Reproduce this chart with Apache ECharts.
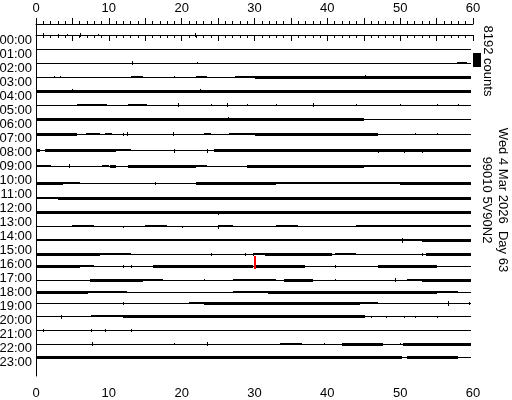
<!DOCTYPE html>
<html><head><meta charset="utf-8">
<script src="https://cdn.jsdelivr.net/npm/echarts@6/dist/echarts.min.js"></script>
<style>html,body{margin:0;padding:0;background:#fff}#c{width:512px;height:400px}</style>
</head><body><div id="c"></div>
<script>
// ---- data ----
const hourLabels = ['00:00','01:00','02:00','03:00','04:00','05:00','06:00','07:00','08:00','09:00','10:00','11:00',
  '12:00','13:00','14:00','15:00','16:00','17:00','18:00','19:00','20:00','21:00','22:00','23:00'];
const countsPerLine = 8192;
const traceEndMinute = 59.7;
// mean (DC) offset of each hourly trace, counts
const traceOffsets = [0,0,0,0,0,0,0,760,2340,2930,4970,5850,5850,5850,5560,5560,4390,4100,2930,1460,1170,880,590,290];
// noisy stretches: [hour, startMin, endMin, halfAmplitudeCounts]
const noiseBands = [
  [2,57.8,59.2,300],
  [3,13.1,14.7,300],[3,22,23.5,300],[3,27.3,30,300],[3,30,59.7,600],
  [4,0,59.7,600],
  [5,5.6,9.7,300],[5,12.7,15.2,300],
  [6,0,45,600],
  [7,0,5.6,600],[7,6.8,8.8,300],[7,9.5,10.5,300],[7,23,24,300],[7,26.5,30,300],[7,30,47,600],
  [8,0,0.6,600],[8,1.2,11,600],[8,11,13,300],[8,24.5,59.7,600],
  [9,0,2,300],[9,9,10,300],[9,10.2,11,700],[9,12.7,22,600],[9,22,23.5,300],[9,29,45,600],[9,45,59.7,300],
  [10,0,3.7,600],[10,3.7,6,300],[10,22,33,600],[10,33,50,300],[10,50,59.7,600],
  [11,0,3,300],[11,3,59.7,600],
  [12,0,59.7,600],
  [13,5,8,300],[13,15,18,300],[13,25,27,300],[13,33,36,300],[13,44,59.7,300],
  [14,0,53,300],[14,53,59.7,600],
  [15,0,8.8,600],[15,8.8,13,300],[15,29.8,31.5,300],[15,31.5,40.6,600],[15,41,44,300],[15,53.6,59.7,600],
  [16,0,6,600],[16,6,8,300],[16,16,29.8,600],[16,30,37,600],[16,47,55,600],
  [17,7.4,14.7,600],[17,14.7,17.5,300],[17,27,29.5,300],[17,29.5,33,300],[17,34,38,600],[17,51,53,300],[17,53,59.7,600],
  [18,0,7.2,600],[18,7.2,12.5,300],[18,27,31.9,300],[18,31.9,55,600],[18,55,58,300],
  [19,21,23,300],[19,23,44.5,600],[19,44.5,47,300],
  [20,7.5,12,300],[20,12,45.2,600],
  [22,33.5,36.5,300],[22,42,47.7,600],[22,50.4,59.7,600],
  [23,0,50.2,600],[23,51,58,500]
];
// isolated spikes: [hour, minute, amplitudeCounts]
const spikes = [
  [0,1,600],[0,3,500],[0,4.2,500],[0,6,600],[0,8.5,400],[0,21.8,600],
  [2,13.2,700],[2,22.1,500],
  [3,2.5,400],[3,3.3,400],[3,19,400],[3,45.2,900],
  [4,5,900],[4,22.5,900],
  [5,19.5,600],[5,24,500],[5,26.2,800],[5,29,500],[5,33,400],[5,38,700],[5,44,400],[5,50,400],[5,55,400],[5,58,400],
  [6,26.3,1000],
  [7,12,500],[7,12.5,900],[7,18.8,900],[7,52,400],[7,55,400],
  [8,19,700],[8,23.5,600],[8,40,500],[8,47,800],[8,50.5,600],[8,53,700],
  [9,4.5,600],[9,16,500],
  [10,16.3,800],
  [12,25,600],[12,34,500],
  [13,25,700],[13,12,500],[13,20,500],
  [14,50.2,900],
  [15,24,700],[15,28.7,600],[15,29.8,600],[15,53,500],
  [16,12,500],[16,13,500],[16,41,500],
  [17,0,600],[17,23,500],[17,41,500],[17,49.3,1000],
  [19,12,800],[19,34,700],[19,56.6,900],[19,59.5,600],
  [20,3.5,1000],[20,46,500],[20,48,500],[20,50.5,500],[20,52,500],[20,55,500],
  [21,1,500],[21,7.5,500],[21,9.5,500],[21,13,500],
  [22,7.7,600],[22,19,500],[22,23.5,600],[22,39.5,500],[22,50,500]
];
// event pick: [hour, minute, upCounts, downCounts]
const picks = [[16,30,6150,1640]];
const titleDate = 'Wed 4 Mar 2026  Day 63';
const stationName = '99010 5V90N2';
const scaleLabel = '8192 counts';

// ---- layout ----
const PX_PER_LINE = 14;
const GRID_TOP = 24, GRID_H = 352, GRID_L = 36, GRID_W = 437;
const yMin = -(11 / PX_PER_LINE) * countsPerLine;
const yMax = yMin + GRID_H / PX_PER_LINE * countsPerLine;
const SCALE_BAR_TOP = yMin + (53 - GRID_TOP) / PX_PER_LINE * countsPerLine;
const FONT = '"Liberation Sans", Arial, sans-serif';

function base(h){ return h * countsPerLine + traceOffsets[h]; }

const chart = echarts.init(document.getElementById('c'), null, {renderer:'canvas'});
const axisCommon = {
  type:'value', min:0, max:60, interval:5, gridIndex:0,
  axisLine:{show:true, lineStyle:{color:'#000', width:1}},
  axisTick:{show:true, length:6, inside:false, lineStyle:{color:'#000', width:1}},
  minorTick:{show:true, splitNumber:5, length:3, lineStyle:{color:'#000', width:1}},
  splitLine:{show:false}, minorSplitLine:{show:false},
  axisLabel:{color:'#000', fontSize:13, fontFamily:FONT, formatter:v => (v % 10 === 0 ? String(v) : '')}
};
chart.setOption({
  animation:false,
  backgroundColor:'#fff',
  grid:[
    {left:GRID_L, top:GRID_TOP, width:GRID_W, height:GRID_H, containLabel:false, outerBoundsMode:'none'},
    {left:GRID_L, top:33, width:GRID_W, height:336, containLabel:false, outerBoundsMode:'none'}
  ],
  xAxis:[
    Object.assign({}, axisCommon, {position:'bottom', axisLabel:Object.assign({}, axisCommon.axisLabel, {margin:11})}),
    Object.assign({}, axisCommon, {position:'top', axisLabel:Object.assign({}, axisCommon.axisLabel, {margin:9})}),
    {type:'value', gridIndex:1, min:0, max:60, show:false}
  ],
  yAxis:[
    {type:'value', gridIndex:0, inverse:true, min:yMin, max:yMax, position:'right',
     axisLine:{show:true, lineStyle:{color:'#000', width:1}}, axisTick:{show:false}, axisLabel:{show:false}, splitLine:{show:false}},
    {type:'category', gridIndex:1, inverse:true, data:hourLabels, boundaryGap:true,
     axisLine:{show:false}, axisTick:{show:false}, splitLine:{show:false},
     axisLabel:{color:'#000', fontSize:13, fontFamily:FONT, margin:4, interval:0}}
  ],
  series:[
    { // baselines
      type:'custom', xAxisIndex:0, yAxisIndex:0, clip:false,
      data: hourLabels.map((_, h) => [h]),
      renderItem:(p, api) => {
        const h = api.value(0);
        const a = api.coord([0, base(h)]), b = api.coord([traceEndMinute, base(h)]);
        const y = Math.floor(a[1]);
        return {type:'rect', shape:{x:Math.round(a[0]), y:y, width:Math.round(b[0]) - Math.round(a[0]), height:1}, style:{fill:'#000'}};
      }
    },
    { // noise bands
      type:'custom', xAxisIndex:0, yAxisIndex:0, clip:false,
      data: noiseBands,
      renderItem:(p, api) => {
        const h = api.value(0), s = api.value(1), e = api.value(2), amp = api.value(3);
        const a = api.coord([s, base(h)]), b = api.coord([e, base(h)]);
        const apx = api.size([0, amp])[1];
        const hgt = Math.max(1, Math.round(2 * apx) + 1);
        const y = Math.floor(a[1]) - Math.floor(hgt / 2);
        const x0 = Math.round(a[0]), x1 = Math.round(b[0]);
        return {type:'rect', shape:{x:x0, y:y, width:Math.max(1, x1 - x0), height:hgt}, style:{fill:'#000'}};
      }
    },
    { // spikes
      type:'custom', xAxisIndex:0, yAxisIndex:0, clip:false,
      data: spikes,
      renderItem:(p, api) => {
        const h = api.value(0), m = api.value(1), amp = api.value(2);
        const a = api.coord([m, base(h) - amp]), b = api.coord([m, base(h) + amp]);
        const y0 = Math.floor(a[1]), y1 = Math.floor(b[1]) + 1;
        return {type:'rect', shape:{x:Math.round(a[0]), y:y0, width:1, height:y1 - y0}, style:{fill:'#000'}};
      }
    },
    { // picks
      type:'custom', xAxisIndex:0, yAxisIndex:0, clip:false, z:5,
      data: picks,
      renderItem:(p, api) => {
        const h = api.value(0), m = api.value(1);
        const a = api.coord([m, base(h) - api.value(2)]), b = api.coord([m, base(h) + api.value(3)]);
        return {type:'rect', shape:{x:Math.round(a[0]) - 1, y:Math.round(a[1]), width:2, height:Math.round(b[1]) - Math.round(a[1])}, style:{fill:'#ff0000'}};
      }
    },
    { // scale bar
      type:'custom', xAxisIndex:0, yAxisIndex:0, clip:false,
      data: [[60, SCALE_BAR_TOP]],
      renderItem:(p, api) => {
        const a = api.coord([api.value(0), api.value(1)]);
        const hgt = api.size([0, countsPerLine])[1];
        return {type:'rect', shape:{x:Math.round(a[0]), y:Math.round(a[1]), width:8, height:Math.round(hgt)}, style:{fill:'#000'}};
      }
    }
  ],
  graphic:[
    {type:'text', x:487.5, y:61, rotation:-Math.PI/2, style:{text:scaleLabel, font:'13px ' + FONT, fill:'#000', align:'center', verticalAlign:'middle'}},
    {type:'text', x:503, y:200, rotation:-Math.PI/2, style:{text:titleDate, font:'13px ' + FONT, fill:'#000', align:'center', verticalAlign:'middle'}},
    {type:'text', x:487, y:200, rotation:-Math.PI/2, style:{text:stationName, font:'13px ' + FONT, fill:'#000', align:'center', verticalAlign:'middle'}}
  ]
});
</script></body></html>
